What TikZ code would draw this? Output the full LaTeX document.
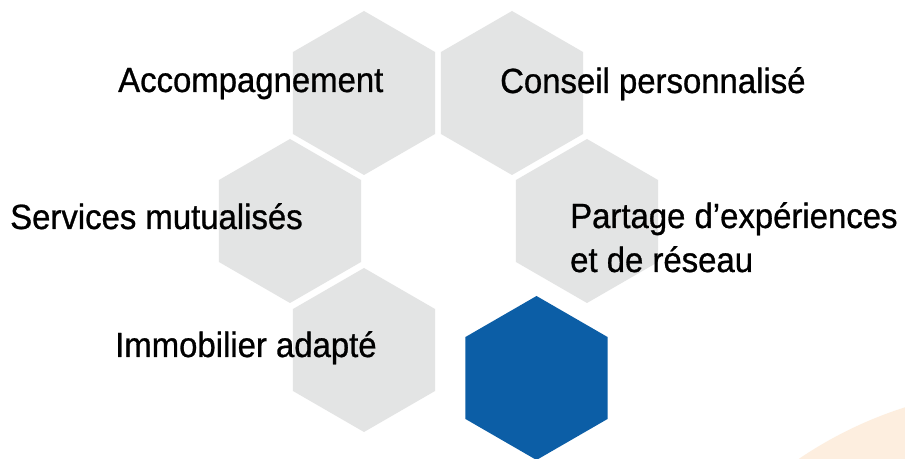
\documentclass[tikz,border=0pt]{standalone}
\usepackage{fontspec}
\setmainfont[FakeStretch=0.94,FakeBold=0.8]{Liberation Sans}
\usetikzlibrary{shapes.geometric}
\definecolor{hexgray}{HTML}{E3E4E4}
\definecolor{hexblue}{HTML}{0C5EA6}
\definecolor{pale}{HTML}{FDEEDF}
\begin{document}
\begin{tikzpicture}[x=1pt,y=1pt,
  hexa/.style={regular polygon, regular polygon sides=6, shape border rotate=30,
    minimum size=164pt, inner sep=0pt, outer sep=0pt, draw=none, fill=hexgray},
  lbl/.style={anchor=base west, inner sep=0pt, align=left,
    font=\fontsize{35}{44}\selectfont, text=black}]
\useasboundingbox (0,0) rectangle (905,458);
\fill[white] (0,0) rectangle (905,458);
\begin{scope}
  \clip (0,0) rectangle (905,458);
  \fill[pale] (1030,-342) circle (412);
\end{scope}
% hexagons
\node[hexa] (hA) at (364,365) {};
\node[hexa] (hC) at (512,365) {};
\node[hexa] (hS) at (290,237) {};
\node[hexa] (hP) at (587,237) {};
\node[hexa] (hI) at (364,108) {};
\node[hexa, fill=hexblue] (hB) at (536.5,80) {};
% labels
\node[lbl] (tA) at (118,366) {Accompagnement};
\node[lbl] (tC) at (500,365) {Conseil personnalisé};
\node[lbl] (tS) at (10,229) {Services mutualisés};
\node[lbl] (tP) at (570,186) {Partage d’expériences\\et de réseau};
\node[lbl] (tI) at (115,101) {Immobilier adapté};
\end{tikzpicture}
\end{document}
